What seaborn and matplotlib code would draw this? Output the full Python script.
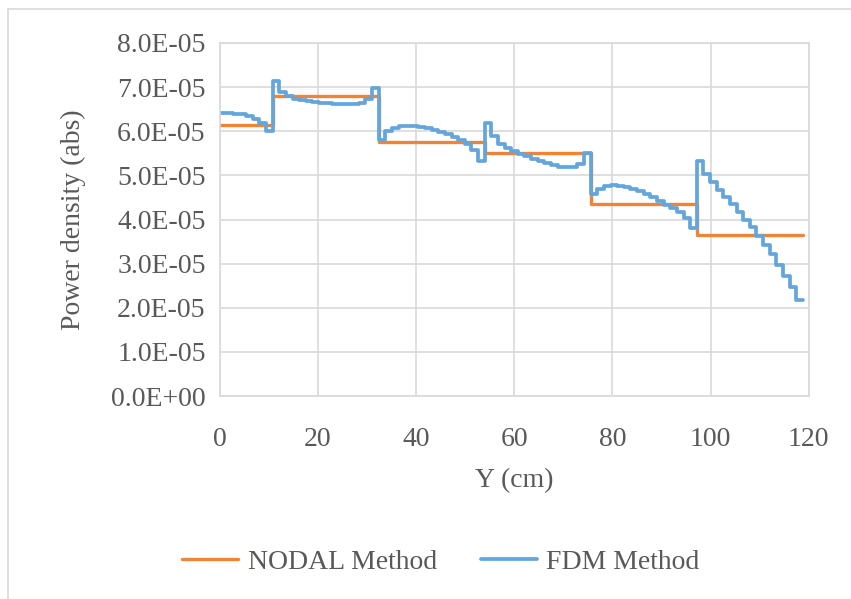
import numpy as np
import pandas as pd
import matplotlib
matplotlib.use("Agg")
import matplotlib.pyplot as plt
from matplotlib.lines import Line2D
from matplotlib.ticker import FuncFormatter
import seaborn as sns

# Nodal solution: one constant power density per node, node boundaries in cm
nodal_edges = [0.0, 10.8, 32.4, 54.0, 75.6, 97.2, 118.8]
nodal_power = [6.15e-5, 6.79e-5, 5.76e-5, 5.50e-5, 4.36e-5, 3.66e-5]

# Finite-difference solution: one value per mesh cell (units of 1e-5)
fdm_cell_width = 1.35
fdm_node1 = [6.41, 6.41, 6.40, 6.38, 6.35, 6.28, 6.18, 6.00]
fdm_node2 = [7.15, 6.90, 6.80, 6.74, 6.71, 6.68, 6.66, 6.64,
             6.63, 6.62, 6.61, 6.61, 6.62, 6.64, 6.72, 6.98]
fdm_node3 = [5.80, 6.00, 6.08, 6.11, 6.13, 6.12, 6.10, 6.07,
             6.03, 5.99, 5.94, 5.88, 5.80, 5.72, 5.58, 5.32]
fdm_node4 = [6.18, 5.90, 5.72, 5.62, 5.55, 5.49, 5.43, 5.38,
             5.33, 5.28, 5.24, 5.20, 5.18, 5.19, 5.26, 5.50]
fdm_node5 = [4.58, 4.70, 4.76, 4.78, 4.77, 4.74, 4.70, 4.64,
             4.57, 4.50, 4.42, 4.33, 4.25, 4.16, 4.04, 3.80]
fdm_node6 = [5.33, 5.02, 4.85, 4.66, 4.50, 4.34, 4.17, 4.00,
             3.82, 3.63, 3.43, 3.21, 2.97, 2.72, 2.48, 2.18]

y_ticks = [0, 1e-5, 2e-5, 3e-5, 4e-5, 5e-5, 6e-5, 7e-5, 8e-5]
x_ticks = [0, 20, 40, 60, 80, 100, 120]

ORANGE = "#EF8436"
BLUE = "#64A6DC"
GRID = "#D9D9D9"
TEXT = "#595959"

sns.set_theme(style="white")
plt.rcParams["font.family"] = ["Liberation Serif", "DejaVu Serif"]
plt.rcParams["text.color"] = TEXT
plt.rcParams["axes.labelcolor"] = TEXT
plt.rcParams["xtick.color"] = TEXT
plt.rcParams["ytick.color"] = TEXT

W, H = 851, 599
fig = plt.figure(figsize=(W / 100, H / 100), dpi=100)
left, right, top, bottom = 219.6, 808.7, 43.0, 396.0
ax = fig.add_axes([left / W, 1 - bottom / H, (right - left) / W, (bottom - top) / H])

# step data frames
nodal_df = pd.DataFrame({
    "y": nodal_edges,
    "p": nodal_power + [nodal_power[-1]],
})
fdm_vals = fdm_node1 + fdm_node2 + fdm_node3 + fdm_node4 + fdm_node5 + fdm_node6
fdm_edges = np.arange(len(fdm_vals) + 1) * fdm_cell_width
fdm_df = pd.DataFrame({
    "y": fdm_edges,
    "p": np.array(fdm_vals + [fdm_vals[-1]]) * 1e-5,
})

line_kw = dict(drawstyle="steps-post",
               solid_joinstyle="round", solid_capstyle="round")
sns.lineplot(data=nodal_df, x="y", y="p", color=ORANGE, label="NODAL Method",
             ax=ax, sort=False, estimator=None, linewidth=2.4, **line_kw)
sns.lineplot(data=fdm_df, x="y", y="p", color=BLUE, label="FDM Method",
             ax=ax, sort=False, estimator=None, linewidth=2.7, **line_kw)

ax.set_xlim(0, 120)
ax.set_ylim(0, 8e-5)
ax.set_xticks(x_ticks)
ax.set_yticks(y_ticks)
ax.yaxis.set_major_formatter(FuncFormatter(lambda v, _: f"{v:.1E}"))
ax.grid(True, color=GRID, linewidth=1.2)
ax.set_axisbelow(True)
for s in ax.spines.values():
    s.set_color(GRID)
    s.set_linewidth(1.2)
ax.tick_params(axis="both", length=0, labelsize=20)
ax.tick_params(axis="y", pad=10)
ax.tick_params(axis="x", pad=22)
ax.set_xlabel("Y (cm)", fontsize=20, labelpad=12)
ax.set_ylabel("Power density (abs)", fontsize=20, labelpad=18)

handles, labels = ax.get_legend_handles_labels()
ax.get_legend().remove()
fig.legend(handles, labels, loc="center", ncol=2,
           bbox_to_anchor=(441 / W, 1 - 562 / H), frameon=False,
           fontsize=20, handlelength=2.0, handletextpad=0.35, columnspacing=1.6)

# chart frame
fig.add_artist(Line2D([8 / W, 8 / W], [0, 1 - 9 / H], color=GRID, linewidth=1.2))
fig.add_artist(Line2D([8 / W, 1], [1 - 9 / H, 1 - 9 / H], color=GRID, linewidth=1.2))

fig.savefig("out.png", dpi=100)
